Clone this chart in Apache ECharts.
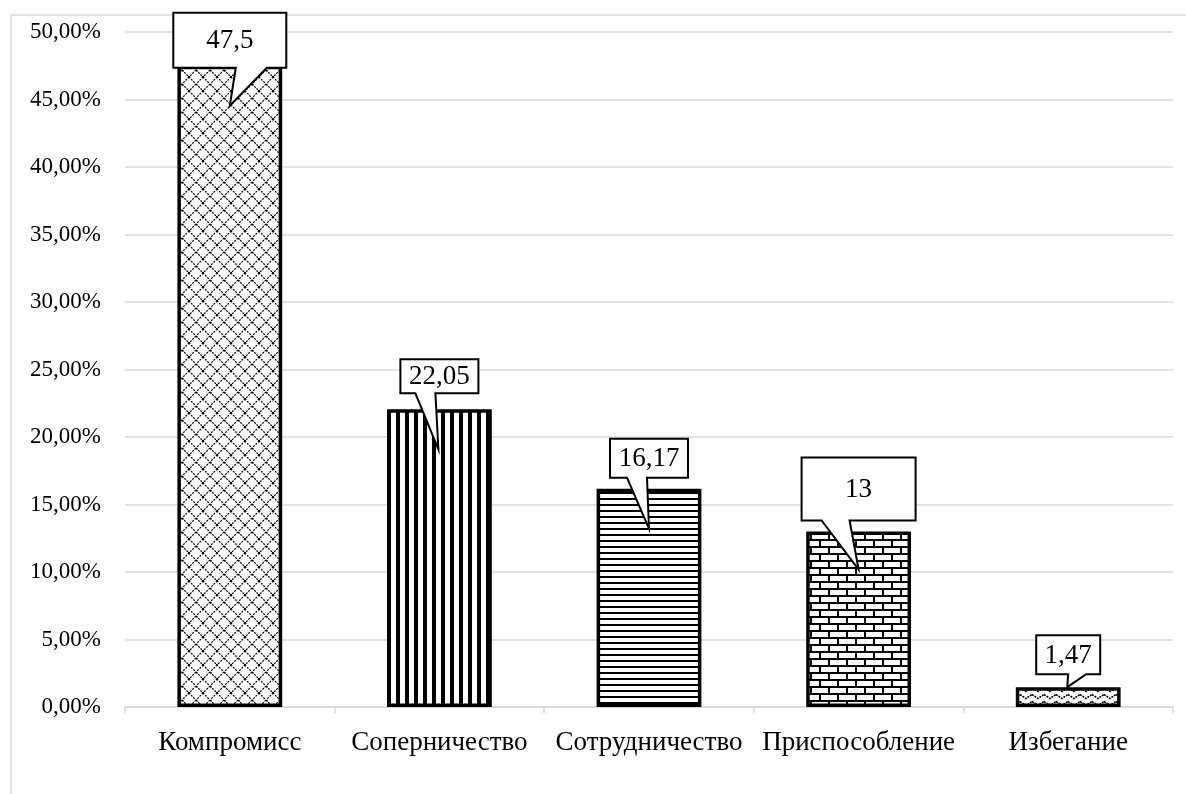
<!DOCTYPE html>
<html>
<head>
<meta charset="utf-8">
<script src="https://cdn.jsdelivr.net/npm/echarts@6/dist/echarts.min.js"></script>
<style>
  html, body { margin: 0; padding: 0; background: #fff; }
  #chart { width: 1186px; height: 794px; }
</style>
</head>
<body>
<div id="chart"></div>
<script>
// Conflict-handling styles and their share of respondents, %
const categories = ['Компромисс', 'Соперничество', 'Сотрудничество', 'Приспособление', 'Избегание'];
const shares = [47.5, 22.05, 16.17, 13, 1.47];
const axisMax = 50;
const axisStep = 5;

// Callout geometry per bar: box width/height, gap between box bottom and bar top,
// tail base (x offsets from bar centre) and tail tip depth below the bar top
const calloutLayout = [
  { w: 113, h: 55, gap: -2, t0: 6,  t1: 37, tipX: 0,  tipY: 40 },
  { w: 78,  h: 34, gap: 16, t0: -24, t1: -4, tipX: -1, tipY: 40 },
  { w: 78,  h: 39, gap: 11, t0: -22, t1: -2, tipX: 0,  tipY: 40 },
  { w: 114, h: 63, gap: 11, t0: -37, t1: -9, tipX: 0,  tipY: 38 },
  { w: 64,  h: 39, gap: 13, t0: 0,   t1: 18, tipX: -1, tipY: 0 }
];

const FONT = '"Liberation Serif", "Times New Roman", serif';

function makeTile(w, h, draw) {
  const c = document.createElement('canvas');
  c.width = w; c.height = h;
  const ctx = c.getContext('2d');
  ctx.fillStyle = '#fff';
  ctx.fillRect(0, 0, w, h);
  ctx.strokeStyle = '#000';
  ctx.fillStyle = '#000';
  draw(ctx, w, h);
  return c;
}

// Dotted diagonal lattice
const latticeTile = makeTile(14, 14, (ctx, w, h) => {
  ctx.lineWidth = 1.2;
  ctx.setLineDash([2, 1.2]);
  ctx.beginPath();
  ctx.moveTo(0, 0); ctx.lineTo(w, h);
  ctx.moveTo(w, 0); ctx.lineTo(0, h);
  ctx.stroke();
  ctx.setLineDash([]);
  ctx.fillRect(w / 2 - 1, h / 2 - 1, 2, 2);
  ctx.fillRect(0, 0, 1.5, 1.5);
});
// Vertical stripes
const vStripeTile = makeTile(9, 4, (ctx, w, h) => {
  ctx.fillRect(0, 0, 4, h);
});
// Horizontal lines
const hLineTile = makeTile(4, 6, (ctx, w, h) => {
  ctx.fillRect(0, 0, w, 2);
});
// Brick wall
const brickTile = makeTile(18, 14, (ctx, w, h) => {
  ctx.fillRect(0, 0, w, 2);
  ctx.fillRect(0, 7, w, 2);
  ctx.fillRect(0, 0, 2, 7);
  ctx.fillRect(9, 7, 2, 7);
});
// Small dotted zigzag
const zigzagTile = makeTile(12, 7, (ctx, w, h) => {
  ctx.lineWidth = 1.6;
  ctx.setLineDash([2, 1]);
  ctx.beginPath();
  ctx.moveTo(0, 1.5); ctx.lineTo(w / 2, 5.5); ctx.lineTo(w, 1.5);
  ctx.stroke();
});

const patterns = [latticeTile, vStripeTile, hLineTile, brickTile, zigzagTile];

function fmtValue(v) {
  return String(v).replace('.', ',');
}

const chart = echarts.init(document.getElementById('chart'), null, { renderer: 'canvas' });

chart.setOption({
  backgroundColor: '#fff',
  animation: false,
  graphic: [{
    type: 'rect',
    shape: { x: 11, y: 15, width: 1300, height: 900 },
    style: { fill: 'none', stroke: '#d9d9d9', lineWidth: 1.5 },
    silent: true,
    z: -10
  }],
  grid: { left: 125, right: 13, top: 32, bottom: 87 },
  xAxis: {
    type: 'category',
    data: categories,
    axisLine: { lineStyle: { color: '#d9d9d9', width: 1.5 } },
    axisTick: { show: true, length: 6, lineStyle: { color: '#d9d9d9', width: 1.5 } },
    axisLabel: { color: '#000', fontFamily: FONT, fontSize: 27, margin: 22, interval: 0 }
  },
  yAxis: {
    type: 'value',
    min: 0,
    max: axisMax,
    interval: axisStep,
    axisLine: { show: false },
    axisTick: { show: false },
    splitLine: { lineStyle: { color: '#d9d9d9', width: 1.5 } },
    axisLabel: {
      color: '#000', fontFamily: FONT, fontSize: 23, margin: 24,
      formatter: v => v.toFixed(2).replace('.', ',') + '%'
    }
  },
  series: [
    {
      type: 'bar',
      barWidth: '50%',
      data: shares.map((v, i) => ({
        value: v,
        itemStyle: {
          color: { image: patterns[i], repeat: 'repeat' },
          borderColor: '#000',
          borderWidth: 3.5
        }
      })),
      z: 2
    },
    {
      type: 'custom',
      data: shares.map((v, i) => [i, v]),
      z: 5,
      renderItem: function (params, api) {
        const i = api.value(0);
        const pt = api.coord([i, api.value(1)]);
        const L = calloutLayout[i];
        const cx = pt[0], top = pt[1];
        const bottom = top - L.gap;
        const boxTop = bottom - L.h;
        const left = cx - L.w / 2;
        const right = cx + L.w / 2;
        const points = [
          [left, boxTop], [right, boxTop], [right, bottom],
          [cx + L.t1, bottom], [cx + L.tipX, top + L.tipY], [cx + L.t0, bottom],
          [left, bottom]
        ];
        return {
          type: 'group',
          children: [
            {
              type: 'polygon',
              shape: { points: points },
              style: { fill: '#fff', stroke: '#000', lineWidth: 2, lineJoin: 'miter' }
            },
            {
              type: 'text',
              style: {
                x: cx, y: boxTop + L.h / 2 + 1,
                text: fmtValue(shares[i]),
                fill: '#000',
                font: '27px ' + FONT,
                align: 'center',
                verticalAlign: 'middle'
              }
            }
          ]
        };
      }
    }
  ]
});
</script>
</body>
</html>
